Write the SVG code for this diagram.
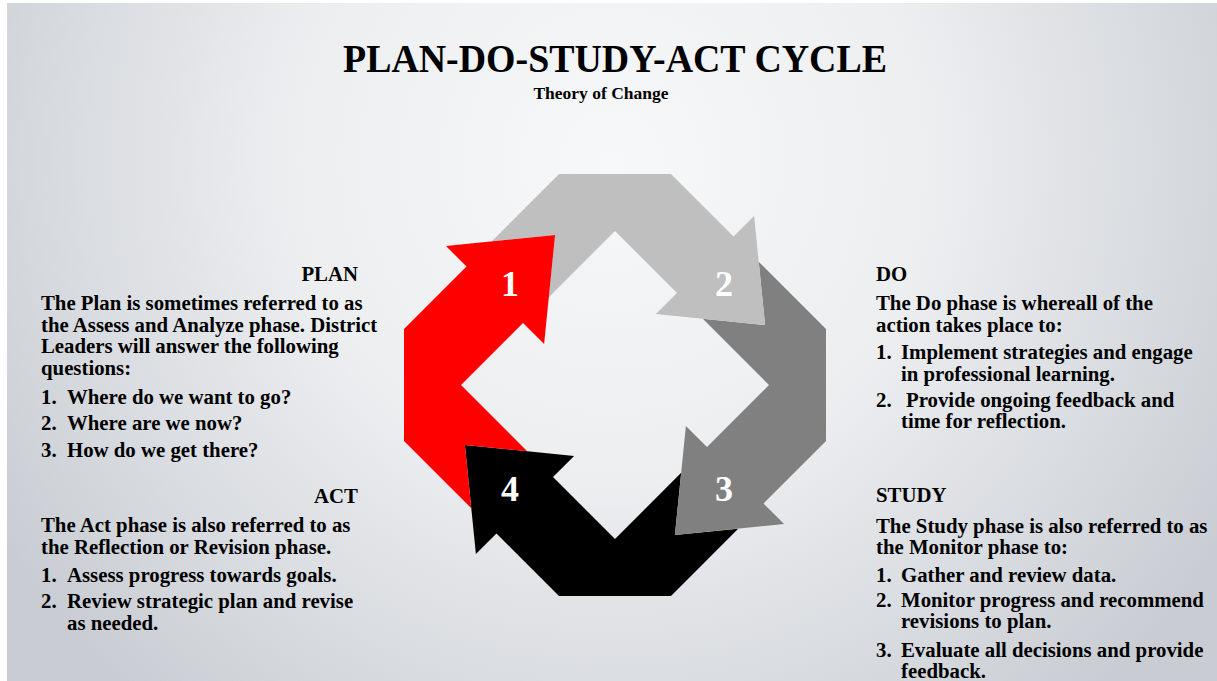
<svg xmlns="http://www.w3.org/2000/svg" width="1217" height="681" viewBox="0 0 1217 681">
  <defs>
    <radialGradient id="bg" gradientUnits="userSpaceOnUse" cx="612" cy="160" r="720">
      <stop offset="0" stop-color="#f7f8f9"/>
      <stop offset="0.45" stop-color="#eceef0"/>
      <stop offset="1" stop-color="#c9cdd3"/>
    </radialGradient>
    <polygon id="arrow" points="555.1,234.9 544.1,344.1 523,323 461,385 527.2,451.2 464.9,444.9 471.3,508.2 404,441 404,329 466.5,266.5 445.9,245.9"/>
  </defs>
  <style>
    text { font-family: "Liberation Serif", "Times New Roman", serif; font-weight: bold; fill: #000; }
    .body { font-size: 20.8px; }
    .num { font-size: 36px; fill: #fff; text-anchor: middle; }
    .hdr { font-size: 20.8px; }
  </style>
  <rect x="0" y="0" width="1217" height="681" fill="#ffffff"/>
  <rect x="7" y="3" width="1210" height="678" fill="url(#bg)"/>

  <g id="title">
    <text x="615" y="72" font-size="40" text-anchor="middle" textLength="544" lengthAdjust="spacingAndGlyphs">PLAN-DO-STUDY-ACT CYCLE</text>
    <text x="601" y="99" font-size="17.5" text-anchor="middle">Theory of Change</text>
  </g>

  <g id="connectors">
    <use href="#arrow" id="arrow4" fill="#000000" transform="rotate(270 615 385)"/>
    <use href="#arrow" id="arrow3" fill="#808080" transform="rotate(180 615 385)"/>
    <use href="#arrow" id="arrow2" fill="#bfbfbf" transform="rotate(90 615 385)"/>
    <use href="#arrow" id="arrow1" fill="#ff0000"/>
  </g>

  <g id="step1"><text class="num" x="510" y="296">1</text></g>
  <g id="step2"><text class="num" x="724" y="296">2</text></g>
  <g id="step3"><text class="num" x="724" y="501">3</text></g>
  <g id="step4"><text class="num" x="510" y="501">4</text></g>

  <g id="plan">
    <text class="hdr" x="358" y="281" text-anchor="end">PLAN</text>
    <text class="body" x="41" y="310">The Plan is sometimes referred to as</text>
    <text class="body" x="41" y="332">the Assess and Analyze phase. District</text>
    <text class="body" x="41" y="353">Leaders will answer the following</text>
    <text class="body" x="41" y="375">questions:</text>
    <text class="body" y="404"><tspan x="41">1.</tspan><tspan x="67">Where do we want to go?</tspan></text>
    <text class="body" y="430"><tspan x="41">2.</tspan><tspan x="67">Where are we now?</tspan></text>
    <text class="body" y="457"><tspan x="41">3.</tspan><tspan x="67">How do we get there?</tspan></text>
  </g>

  <g id="act">
    <text class="hdr" x="358" y="503" text-anchor="end">ACT</text>
    <text class="body" x="41" y="532">The Act phase is also referred to as</text>
    <text class="body" x="41" y="554">the Reflection or Revision phase.</text>
    <text class="body" y="582"><tspan x="41">1.</tspan><tspan x="67">Assess progress towards goals.</tspan></text>
    <text class="body" y="608"><tspan x="41">2.</tspan><tspan x="67">Review strategic plan and revise</tspan></text>
    <text class="body" x="67" y="630">as needed.</text>
  </g>

  <g id="do">
    <text class="hdr" x="876" y="281">DO</text>
    <text class="body" x="876" y="310">The Do phase is whereall of the</text>
    <text class="body" x="876" y="332">action takes place to:</text>
    <text class="body" y="359"><tspan x="876">1.</tspan><tspan x="901">Implement strategies and engage</tspan></text>
    <text class="body" x="901" y="381">in professional learning.</text>
    <text class="body" y="407"><tspan x="876">2.</tspan><tspan x="906">Provide ongoing feedback and</tspan></text>
    <text class="body" x="901" y="428">time for reflection.</text>
  </g>

  <g id="study">
    <text class="hdr" x="876" y="502">STUDY</text>
    <text class="body" x="876" y="533">The Study phase is also referred to as</text>
    <text class="body" x="876" y="554">the Monitor phase to:</text>
    <text class="body" y="582"><tspan x="876">1.</tspan><tspan x="901">Gather and review data.</tspan></text>
    <text class="body" y="607"><tspan x="876">2.</tspan><tspan x="901">Monitor progress and recommend</tspan></text>
    <text class="body" x="901" y="628">revisions to plan.</text>
    <text class="body" y="657"><tspan x="876">3.</tspan><tspan x="901">Evaluate all decisions and provide</tspan></text>
    <text class="body" x="901" y="678">feedback.</text>
  </g>
</svg>
